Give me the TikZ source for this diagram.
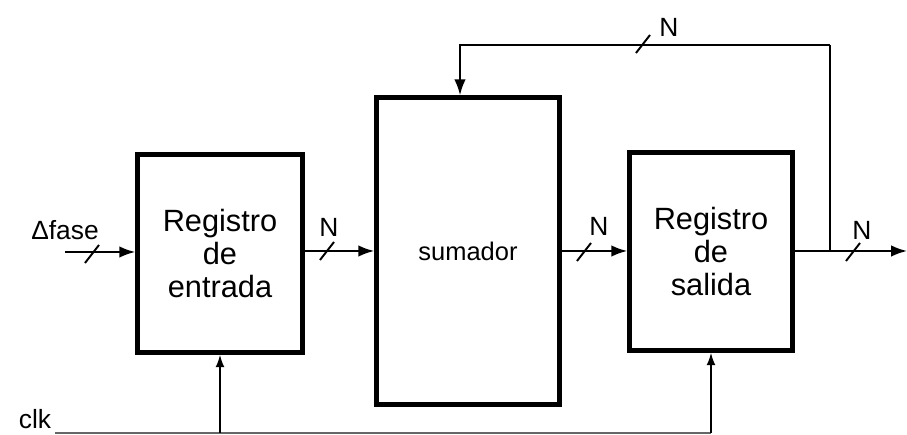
\documentclass[tikz,border=0pt]{standalone}
\usepackage{fontspec}
\setmainfont{Liberation Sans}
\usetikzlibrary{calc, positioning}
\usetikzlibrary{arrows.meta}

\tikzset{
  bloque/.style={draw, line width=2.6pt, inner sep=0pt, align=center,
    font=\fontsize{17.5}{19}\selectfont},
  sig/.style={line width=1.1pt},
  flecha/.style={sig, -{Latex[length=9pt, width=6.5pt]}},
  lab/.style={inner sep=0pt, font=\fontsize{15}{17}\selectfont},
  slash/.pic={\draw[sig] (-7,9) -- (7,-9);}
}

\begin{document}
\begin{tikzpicture}[x=0.02cm, y=-0.02cm]
\useasboundingbox (0,0) rectangle (907,435);

% bloques
\node[bloque, minimum width=3.3cm, minimum height=3.96cm] (regent) at (220,253.5) {Registro\\de\\entrada};
\node[bloque, minimum width=3.66cm, minimum height=6.14cm, font=\fontsize{14.5}{17}\selectfont] (sumador) at (468,251) {sumador};
\node[bloque, minimum width=3.26cm, minimum height=3.96cm] (regsal) at (711,251.5) {Registro\\de\\salida};

\coordinate (in) at (65,252);
\coordinate (out) at (907,251);
\coordinate (junc) at (830,251);
\coordinate (fb) at (830,45);
\coordinate (clkin) at (55,433);

% datos
\draw[flecha] (in) -- (in -| regent.west);
\draw[flecha] (regent.east |- 0,251) -- (sumador.west |- 0,251);
\draw[flecha] (sumador.east |- 0,251) -- (regsal.west |- 0,251);
\draw[flecha] (regsal.east |- out) -- (out);
\draw[sig] (junc) -- (fb);
\draw[flecha] (fb) -| (460,0 |- sumador.north);

% marcas de bus
\pic at (92,254) {slash};
\pic at (327,251) {slash};
\pic at (584,252) {slash};
\pic at (853,252) {slash};
\pic at (643,44) {slash};

\node[lab] (fase) at (65,230) {Δfase};
\node[lab] (n1) at (329,227) {N};
\node[lab] (n2) at (599,226) {N};
\node[lab] (n3) at (862,230) {N};
\node[lab] (n4) at (669,27) {N};

% reloj
\node[lab] (clk) at (35,419) {clk};
\draw[line width=0.6pt, black!60] (clkin) -- (clkin -| regsal.south);
\draw[sig, line width=0.9pt, -{Latex[length=7pt, width=5pt]}] (clkin -| regent.south) -- (regent.south);
\draw[sig, line width=0.9pt, -{Latex[length=7pt, width=5pt]}] (clkin -| regsal.south) -- (regsal.south);
\end{tikzpicture}
\end{document}
